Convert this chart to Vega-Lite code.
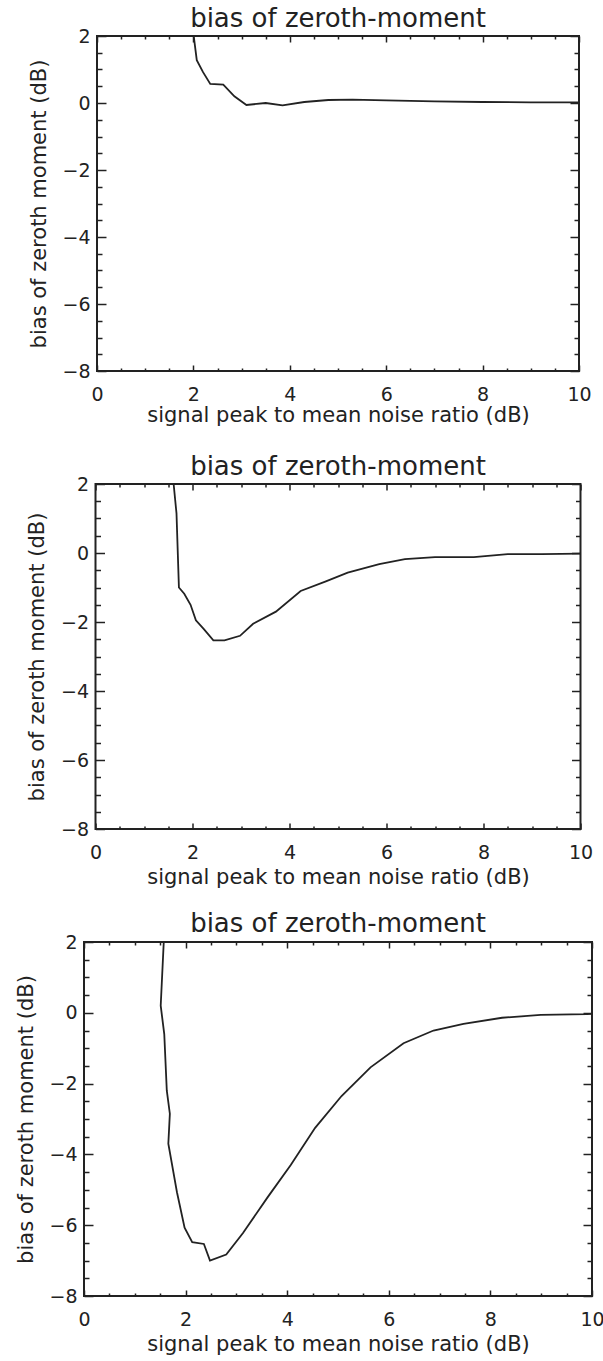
{
  "$schema": "https://vega.github.io/schema/vega-lite/v6.json",
  "background": "white",
  "padding": {"left": 13, "top": 4, "right": 5, "bottom": 5},
  "spacing": 113,
  "bounds": "flush",
  "center": true,
  "config": {
    "view": {"stroke": "#222", "strokeWidth": 2},
    "font": "DejaVu Sans",
    "axis": {
      "grid": false, "domain": false,
      "tickColor": "#222", "tickWidth": 1.5,
      "labelColor": "#222", "labelFont": "DejaVu Sans", "labelFontSize": 19,
      "labelOverlap": false, "labelFlush": false, "labelBound": false,
      "titleColor": "#222", "titleFont": "DejaVu Sans", "titleFontSize": 21, "titleFontWeight": "normal"
    },
    "title": {"font": "DejaVu Sans", "fontSize": 26, "fontWeight": "normal", "color": "#222", "anchor": "middle", "frame": "group", "offset": -6, "baseline": "alphabetic"}
  },
  "data": {"values": [
    {"panel": 1, "snr": 1.98, "bias": 2.3},
    {"panel": 1, "snr": 2.07, "bias": 1.28},
    {"panel": 1, "snr": 2.2, "bias": 0.92},
    {"panel": 1, "snr": 2.35, "bias": 0.57},
    {"panel": 1, "snr": 2.62, "bias": 0.55},
    {"panel": 1, "snr": 2.85, "bias": 0.2},
    {"panel": 1, "snr": 3.1, "bias": -0.06},
    {"panel": 1, "snr": 3.5, "bias": 0.0},
    {"panel": 1, "snr": 3.85, "bias": -0.07},
    {"panel": 1, "snr": 4.3, "bias": 0.03},
    {"panel": 1, "snr": 4.8, "bias": 0.09},
    {"panel": 1, "snr": 5.3, "bias": 0.1},
    {"panel": 1, "snr": 6.0, "bias": 0.08},
    {"panel": 1, "snr": 7.0, "bias": 0.05},
    {"panel": 1, "snr": 8.0, "bias": 0.03},
    {"panel": 1, "snr": 9.0, "bias": 0.02},
    {"panel": 1, "snr": 10.0, "bias": 0.02},
    {"panel": 2, "snr": 1.59, "bias": 2.3},
    {"panel": 2, "snr": 1.67, "bias": 1.15},
    {"panel": 2, "snr": 1.72, "bias": -1.0},
    {"panel": 2, "snr": 1.83, "bias": -1.18},
    {"panel": 2, "snr": 1.96, "bias": -1.5},
    {"panel": 2, "snr": 2.07, "bias": -1.95},
    {"panel": 2, "snr": 2.23, "bias": -2.2},
    {"panel": 2, "snr": 2.43, "bias": -2.53},
    {"panel": 2, "snr": 2.66, "bias": -2.53},
    {"panel": 2, "snr": 2.98, "bias": -2.4},
    {"panel": 2, "snr": 3.25, "bias": -2.05},
    {"panel": 2, "snr": 3.72, "bias": -1.7},
    {"panel": 2, "snr": 4.23, "bias": -1.1},
    {"panel": 2, "snr": 4.75, "bias": -0.82},
    {"panel": 2, "snr": 5.2, "bias": -0.57},
    {"panel": 2, "snr": 5.85, "bias": -0.32},
    {"panel": 2, "snr": 6.38, "bias": -0.18},
    {"panel": 2, "snr": 7.0, "bias": -0.12},
    {"panel": 2, "snr": 7.8, "bias": -0.12},
    {"panel": 2, "snr": 8.5, "bias": -0.03},
    {"panel": 2, "snr": 9.2, "bias": -0.03},
    {"panel": 2, "snr": 10.0, "bias": -0.02},
    {"panel": 3, "snr": 1.58, "bias": 2.3},
    {"panel": 3, "snr": 1.51, "bias": 0.2},
    {"panel": 3, "snr": 1.58, "bias": -0.6},
    {"panel": 3, "snr": 1.63, "bias": -2.2},
    {"panel": 3, "snr": 1.69, "bias": -2.85},
    {"panel": 3, "snr": 1.66, "bias": -3.7},
    {"panel": 3, "snr": 1.83, "bias": -5.07},
    {"panel": 3, "snr": 1.98, "bias": -6.07},
    {"panel": 3, "snr": 2.13, "bias": -6.48},
    {"panel": 3, "snr": 2.36, "bias": -6.53},
    {"panel": 3, "snr": 2.48, "bias": -7.0},
    {"panel": 3, "snr": 2.8, "bias": -6.83},
    {"panel": 3, "snr": 3.13, "bias": -6.22},
    {"panel": 3, "snr": 3.62, "bias": -5.2},
    {"panel": 3, "snr": 4.07, "bias": -4.3},
    {"panel": 3, "snr": 4.55, "bias": -3.25},
    {"panel": 3, "snr": 5.07, "bias": -2.35},
    {"panel": 3, "snr": 5.64, "bias": -1.54},
    {"panel": 3, "snr": 6.29, "bias": -0.86},
    {"panel": 3, "snr": 6.88, "bias": -0.5},
    {"panel": 3, "snr": 7.47, "bias": -0.31},
    {"panel": 3, "snr": 8.23, "bias": -0.14},
    {"panel": 3, "snr": 8.99, "bias": -0.06},
    {"panel": 3, "snr": 9.9, "bias": -0.04},
    {"panel": 3, "snr": 10.0, "bias": -0.03}
  ]},
  "vconcat": [
    {
      "width": 482, "height": 335,
      "title": {"text": "bias of zeroth-moment"},
      "transform": [{"filter": "datum.panel == 1"}],
      "layer": [
        {"mark": {"type": "line", "clip": true, "color": "#222", "strokeWidth": 1.8},
         "encoding": {
          "x": {"field": "snr", "type": "quantitative", "scale": {"domain": [0, 10], "nice": false, "zero": false},
                "axis": {"orient": "bottom", "values": [0, 2, 4, 6, 8, 10], "tickSize": -6, "labelPadding": 20, "title": "signal peak to mean noise ratio (dB)", "titleY": 50, "titleBaseline": "alphabetic"}},
          "y": {"field": "bias", "type": "quantitative", "scale": {"domain": [-8, 2], "nice": false, "zero": false},
                "axis": {"orient": "left", "values": [-8, -6, -4, -2, 0, 2], "tickSize": -9, "labelPadding": 16, "title": "bias of zeroth moment (dB)", "titleX": -52, "titleY": 167.5, "titleAngle": 270, "titleAlign": "center", "titleBaseline": "alphabetic"}},
          "order": {"value": null}}},
        {"mark": {"type": "line", "opacity": 0},
         "encoding": {
          "x": {"field": "snr", "type": "quantitative", "scale": {"domain": [0, 10], "nice": false, "zero": false},
                "axis": {"orient": "bottom", "values": [0.5, 1, 1.5, 2.5, 3, 3.5, 4.5, 5, 5.5, 6.5, 7, 7.5, 8.5, 9, 9.5], "tickSize": -3, "labels": false, "title": null}},
          "y": {"field": "bias", "type": "quantitative", "scale": {"domain": [-8, 2], "nice": false, "zero": false},
                "axis": {"orient": "left", "values": [-7.5, -7, -6.5, -5.5, -5, -4.5, -3.5, -3, -2.5, -1.5, -1, -0.5, 0.5, 1, 1.5], "tickSize": -5, "labels": false, "title": null}},
          "order": {"value": null}}},
        {"mark": {"type": "line", "opacity": 0},
         "encoding": {
          "x": {"field": "snr", "type": "quantitative", "scale": {"domain": [0, 10], "nice": false, "zero": false},
                "axis": {"orient": "top", "values": [0, 2, 4, 6, 8, 10], "tickSize": -6, "labels": false, "title": null}},
          "y": {"field": "bias", "type": "quantitative", "scale": {"domain": [-8, 2], "nice": false, "zero": false},
                "axis": {"orient": "right", "values": [-8, -6, -4, -2, 0, 2], "tickSize": -9, "labels": false, "title": null}},
          "order": {"value": null}}},
        {"mark": {"type": "line", "opacity": 0},
         "encoding": {
          "x": {"field": "snr", "type": "quantitative", "scale": {"domain": [0, 10], "nice": false, "zero": false},
                "axis": {"orient": "top", "values": [0.5, 1, 1.5, 2.5, 3, 3.5, 4.5, 5, 5.5, 6.5, 7, 7.5, 8.5, 9, 9.5], "tickSize": -3, "labels": false, "title": null}},
          "y": {"field": "bias", "type": "quantitative", "scale": {"domain": [-8, 2], "nice": false, "zero": false},
                "axis": {"orient": "right", "values": [-7.5, -7, -6.5, -5.5, -5, -4.5, -3.5, -3, -2.5, -1.5, -1, -0.5, 0.5, 1, 1.5], "tickSize": -5, "labels": false, "title": null}},
          "order": {"value": null}}}
      ],
      "resolve": {"axis": {"x": "independent", "y": "independent"}}
    },
    {
      "width": 485, "height": 345,
      "title": {"text": "bias of zeroth-moment"},
      "transform": [{"filter": "datum.panel == 2"}],
      "layer": [
        {"mark": {"type": "line", "clip": true, "color": "#222", "strokeWidth": 1.8},
         "encoding": {
          "x": {"field": "snr", "type": "quantitative", "scale": {"domain": [0, 10], "nice": false, "zero": false},
                "axis": {"orient": "bottom", "values": [0, 2, 4, 6, 8, 10], "tickSize": -6, "labelPadding": 20, "title": "signal peak to mean noise ratio (dB)", "titleY": 54, "titleBaseline": "alphabetic"}},
          "y": {"field": "bias", "type": "quantitative", "scale": {"domain": [-8, 2], "nice": false, "zero": false},
                "axis": {"orient": "left", "values": [-8, -6, -4, -2, 0, 2], "tickSize": -9, "labelPadding": 16, "title": "bias of zeroth moment (dB)", "titleX": -52, "titleY": 172.5, "titleAngle": 270, "titleAlign": "center", "titleBaseline": "alphabetic"}},
          "order": {"value": null}}},
        {"mark": {"type": "line", "opacity": 0},
         "encoding": {
          "x": {"field": "snr", "type": "quantitative", "scale": {"domain": [0, 10], "nice": false, "zero": false},
                "axis": {"orient": "bottom", "values": [0.5, 1, 1.5, 2.5, 3, 3.5, 4.5, 5, 5.5, 6.5, 7, 7.5, 8.5, 9, 9.5], "tickSize": -3, "labels": false, "title": null}},
          "y": {"field": "bias", "type": "quantitative", "scale": {"domain": [-8, 2], "nice": false, "zero": false},
                "axis": {"orient": "left", "values": [-7.5, -7, -6.5, -5.5, -5, -4.5, -3.5, -3, -2.5, -1.5, -1, -0.5, 0.5, 1, 1.5], "tickSize": -5, "labels": false, "title": null}},
          "order": {"value": null}}},
        {"mark": {"type": "line", "opacity": 0},
         "encoding": {
          "x": {"field": "snr", "type": "quantitative", "scale": {"domain": [0, 10], "nice": false, "zero": false},
                "axis": {"orient": "top", "values": [0, 2, 4, 6, 8, 10], "tickSize": -6, "labels": false, "title": null}},
          "y": {"field": "bias", "type": "quantitative", "scale": {"domain": [-8, 2], "nice": false, "zero": false},
                "axis": {"orient": "right", "values": [-8, -6, -4, -2, 0, 2], "tickSize": -9, "labels": false, "title": null}},
          "order": {"value": null}}},
        {"mark": {"type": "line", "opacity": 0},
         "encoding": {
          "x": {"field": "snr", "type": "quantitative", "scale": {"domain": [0, 10], "nice": false, "zero": false},
                "axis": {"orient": "top", "values": [0.5, 1, 1.5, 2.5, 3, 3.5, 4.5, 5, 5.5, 6.5, 7, 7.5, 8.5, 9, 9.5], "tickSize": -3, "labels": false, "title": null}},
          "y": {"field": "bias", "type": "quantitative", "scale": {"domain": [-8, 2], "nice": false, "zero": false},
                "axis": {"orient": "right", "values": [-7.5, -7, -6.5, -5.5, -5, -4.5, -3.5, -3, -2.5, -1.5, -1, -0.5, 0.5, 1, 1.5], "tickSize": -5, "labels": false, "title": null}},
          "order": {"value": null}}}
      ],
      "resolve": {"axis": {"x": "independent", "y": "independent"}}
    },
    {
      "width": 508, "height": 354,
      "title": {"text": "bias of zeroth-moment"},
      "transform": [{"filter": "datum.panel == 3"}],
      "layer": [
        {"mark": {"type": "line", "clip": true, "color": "#222", "strokeWidth": 1.8},
         "encoding": {
          "x": {"field": "snr", "type": "quantitative", "scale": {"domain": [0, 10], "nice": false, "zero": false},
                "axis": {"orient": "bottom", "values": [0, 2, 4, 6, 8, 10], "tickSize": -6, "labelPadding": 20, "title": "signal peak to mean noise ratio (dB)", "titleY": 54, "titleBaseline": "alphabetic"}},
          "y": {"field": "bias", "type": "quantitative", "scale": {"domain": [-8, 2], "nice": false, "zero": false},
                "axis": {"orient": "left", "values": [-8, -6, -4, -2, 0, 2], "tickSize": -9, "labelPadding": 16, "title": "bias of zeroth moment (dB)", "titleX": -52, "titleY": 177, "titleAngle": 270, "titleAlign": "center", "titleBaseline": "alphabetic"}},
          "order": {"value": null}}},
        {"mark": {"type": "line", "opacity": 0},
         "encoding": {
          "x": {"field": "snr", "type": "quantitative", "scale": {"domain": [0, 10], "nice": false, "zero": false},
                "axis": {"orient": "bottom", "values": [0.5, 1, 1.5, 2.5, 3, 3.5, 4.5, 5, 5.5, 6.5, 7, 7.5, 8.5, 9, 9.5], "tickSize": -3, "labels": false, "title": null}},
          "y": {"field": "bias", "type": "quantitative", "scale": {"domain": [-8, 2], "nice": false, "zero": false},
                "axis": {"orient": "left", "values": [-7.5, -7, -6.5, -5.5, -5, -4.5, -3.5, -3, -2.5, -1.5, -1, -0.5, 0.5, 1, 1.5], "tickSize": -5, "labels": false, "title": null}},
          "order": {"value": null}}},
        {"mark": {"type": "line", "opacity": 0},
         "encoding": {
          "x": {"field": "snr", "type": "quantitative", "scale": {"domain": [0, 10], "nice": false, "zero": false},
                "axis": {"orient": "top", "values": [0, 2, 4, 6, 8, 10], "tickSize": -6, "labels": false, "title": null}},
          "y": {"field": "bias", "type": "quantitative", "scale": {"domain": [-8, 2], "nice": false, "zero": false},
                "axis": {"orient": "right", "values": [-8, -6, -4, -2, 0, 2], "tickSize": -9, "labels": false, "title": null}},
          "order": {"value": null}}},
        {"mark": {"type": "line", "opacity": 0},
         "encoding": {
          "x": {"field": "snr", "type": "quantitative", "scale": {"domain": [0, 10], "nice": false, "zero": false},
                "axis": {"orient": "top", "values": [0.5, 1, 1.5, 2.5, 3, 3.5, 4.5, 5, 5.5, 6.5, 7, 7.5, 8.5, 9, 9.5], "tickSize": -3, "labels": false, "title": null}},
          "y": {"field": "bias", "type": "quantitative", "scale": {"domain": [-8, 2], "nice": false, "zero": false},
                "axis": {"orient": "right", "values": [-7.5, -7, -6.5, -5.5, -5, -4.5, -3.5, -3, -2.5, -1.5, -1, -0.5, 0.5, 1, 1.5], "tickSize": -5, "labels": false, "title": null}},
          "order": {"value": null}}}
      ],
      "resolve": {"axis": {"x": "independent", "y": "independent"}}
    }
  ]
}
